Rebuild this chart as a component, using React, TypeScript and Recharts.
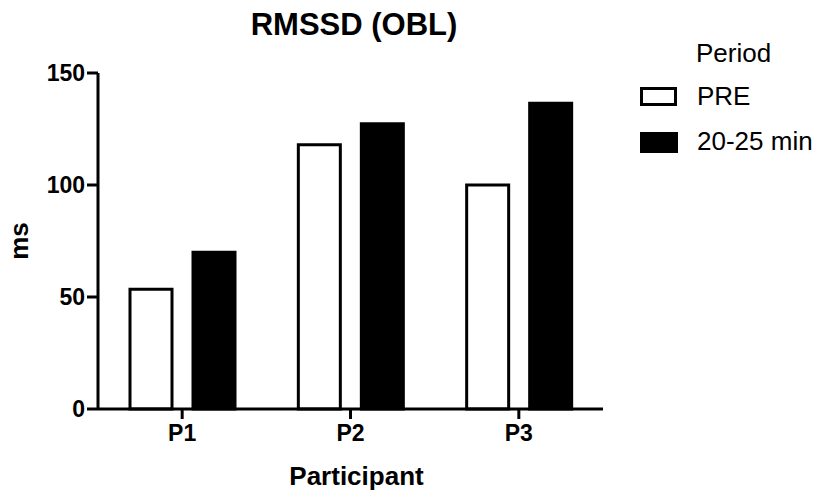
import React from 'react';
import { BarChart, Bar, XAxis, YAxis, Legend, Label } from 'recharts';

// values
const participants = ['P1', 'P2', 'P3'];
const preValues = [53.5, 118, 100];
const postValues = [70, 127.3, 136.5];
const yTicks = [0, 50, 100, 150];
const seriesOrder = ['pre', 'post'];

const chartData = participants.map((p, i) => ({
    participant: p,
    pre: preValues[i],
    post: postValues[i],
}));

const FONT = '"Liberation Sans", Arial, Helvetica, sans-serif';

const PeriodLegend = (props: any) => {
    const payload = props.payload || [];
    const items = seriesOrder
        .map((k) => payload.find((e: any) => e.dataKey === k))
        .filter(Boolean);
    return (
        <svg width={189} height={140} style={{ fontFamily: FONT, display: 'block' }}>
            <text x={66} y={32} fontSize={26} fill="#000">Period</text>
            {items.map((entry: any, i: number) => {
                const isPre = entry.dataKey === 'pre';
                const rowY = 58 + i * 45;
                return (
                    <g key={`leg-${i}`}>
                        {isPre ? (
                            <rect x={11.5} y={rowY + 0.5} width={34} height={16} fill="#fff" stroke="#000" strokeWidth={3} />
                        ) : (
                            <rect x={10} y={rowY - 1} width={38} height={21} fill="#000" />
                        )}
                        <text x={67} y={rowY + 17} fontSize={26} fill="#000">{entry.value}</text>
                    </g>
                );
            })}
        </svg>
    );
};

const App: React.FC = () => {
    return (
        <div style={{ position: 'absolute', left: 0, top: 0, width: 819, height: 495, background: '#fff', fontFamily: FONT }}>
            <BarChart
                width={819}
                height={495}
                data={chartData}
                margin={{ top: 73, right: 216, bottom: 0, left: 0 }}
                barSize={42}
                barGap={21}
            >
                <XAxis
                    dataKey="participant"
                    height={86}
                    axisLine={{ stroke: '#000', strokeWidth: 3 }}
                    tickLine={{ stroke: '#000', strokeWidth: 3 }}
                    tickSize={10}
                    tickMargin={6}
                    tick={{ fill: '#000', fontSize: 23, fontWeight: 'bold', fontFamily: FONT }}
                >
                    <Label
                        value="Participant"
                        position="insideBottom"
                        offset={10}
                        dx={6}
                        style={{ fill: '#000', fontSize: 26, fontWeight: 'bold', fontFamily: FONT }}
                    />
                </XAxis>
                <YAxis
                    width={98}
                    domain={[0, 150]}
                    ticks={yTicks}
                    axisLine={{ stroke: '#000', strokeWidth: 3 }}
                    tickLine={{ stroke: '#000', strokeWidth: 3 }}
                    tickSize={11}
                    tickMargin={2}
                    tick={{ fill: '#000', fontSize: 23, fontWeight: 'bold', fontFamily: FONT }}
                />
                <Legend
                    content={PeriodLegend}
                    wrapperStyle={{ position: 'absolute', left: 630, top: 30, width: 189, height: 0, overflow: 'visible' }}
                />
                <Bar dataKey="pre" name="PRE" fill="#fff" stroke="#000" strokeWidth={3} isAnimationActive={false} />
                <Bar dataKey="post" name="20-25 min" fill="#000" stroke="#000" strokeWidth={3} isAnimationActive={false} />
            </BarChart>
            <svg width={819} height={495} style={{ position: 'absolute', left: 0, top: 0, pointerEvents: 'none' }}>
                <text x={354} y={35} textAnchor="middle" fontSize={31} fontWeight="bold" fontFamily={FONT} fill="#000">
                    RMSSD (OBL)
                </text>
                <text x={28} y={241} textAnchor="middle" fontSize={26} fontWeight="bold" fontFamily={FONT} fill="#000" transform="rotate(-90, 28, 241)">
                    ms
                </text>
            </svg>
        </div>
    );
};

export default App;
